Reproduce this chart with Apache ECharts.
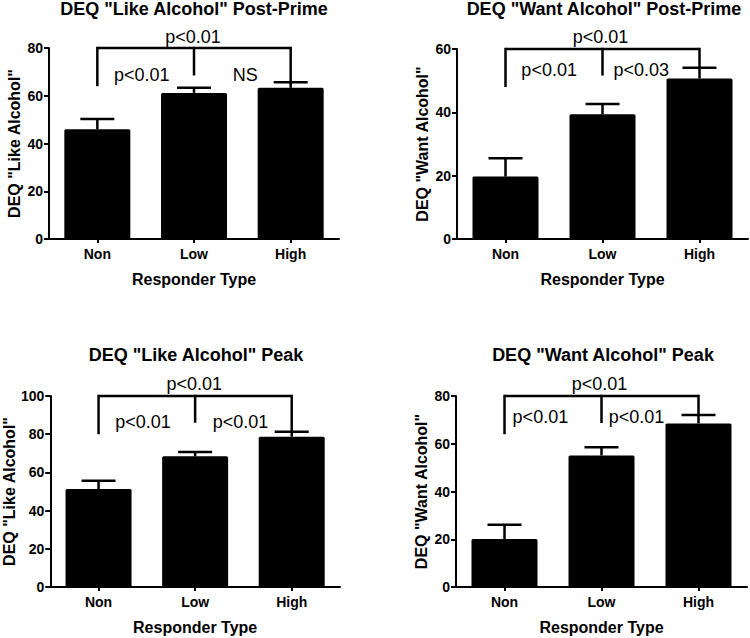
<!DOCTYPE html>
<html>
<head>
<meta charset="utf-8">
<script src="https://cdn.jsdelivr.net/npm/echarts@6/dist/echarts.min.js"></script>
<style>
html,body{margin:0;padding:0;background:#fff;}
#chart{width:750px;height:638px;}
</style>
</head>
<body>
<div id="chart"></div>
<script>
// ---------- data ----------
const categories = ['Non', 'Low', 'High'];

const titles = [
  'DEQ "Like Alcohol" Post-Prime',
  'DEQ "Want Alcohol" Post-Prime',
  'DEQ "Like Alcohol" Peak',
  'DEQ "Want Alcohol" Peak'
];
const yAxisNames = ['DEQ "Like Alcohol"', 'DEQ "Want Alcohol"', 'DEQ "Like Alcohol"', 'DEQ "Want Alcohol"'];
const xAxisName = 'Responder Type';

const yMaxValues = [80, 60, 100, 80];
const yStep = 20;

// means and (upper) error
const likePostMean = [46.0, 61.2, 63.3];
const likePostErr  = [4.3, 2.2, 2.4];
const wantPostMean = [19.7, 39.4, 50.7];
const wantPostErr  = [5.8, 3.2, 3.4];
const likePeakMean = [51.3, 68.4, 78.7];
const likePeakErr  = [4.3, 2.3, 2.6];
const wantPeakMean = [20.1, 55.1, 68.5];
const wantPeakErr  = [6.0, 3.4, 3.5];

// significance brackets: top level, leg ends (Non, Low, High), labels (overall, Non-Low, Low-High)
const likePostBracketTop = 80;
const likePostLegs = [64, 68.5, 65];
const likePostSig = ['p<0.01', 'p<0.01', 'NS'];
const wantPostBracketTop = 60;
const wantPostLegs = [48, 51.6, 54];
const wantPostSig = ['p<0.01', 'p<0.01', 'p<0.03'];
const likePeakBracketTop = 100;
const likePeakLegs = [80, 86, 81.3];
const likePeakSig = ['p<0.01', 'p<0.01', 'p<0.01'];
const wantPeakBracketTop = 80;
const wantPeakLegs = [64, 68.7, 72];
const wantPeakSig = ['p<0.01', 'p<0.01', 'p<0.01'];

// ---------- layout / style ----------
const FONT = '"Liberation Sans", Arial, Helvetica, sans-serif';
const panels = [
  {mean: likePostMean, err: likePostErr, top: likePostBracketTop, legs: likePostLegs, sig: likePostSig,
   grid: {left: 49, top: 48, width: 290, height: 191}, titleX: 194, titleY: 0,
   lab: {topDy: -11, subDy: 27, xs: [0.99, 0.46, 1.53]}},
  {mean: wantPostMean, err: wantPostErr, top: wantPostBracketTop, legs: wantPostLegs, sig: wantPostSig,
   grid: {left: 457, top: 49, width: 291, height: 190}, titleX: 604, titleY: 0,
   lab: {topDy: -12.5, subDy: 21, xs: [0.98, 0.45, 1.40]}},
  {mean: likePeakMean, err: likePeakErr, top: likePeakBracketTop, legs: likePeakLegs, sig: likePeakSig,
   grid: {left: 49, top: 396, width: 291, height: 191}, titleX: 196, titleY: 346,
   lab: {topDy: -12, subDy: 26, xs: [0.99, 0.46, 1.47]}},
  {mean: wantPeakMean, err: wantPeakErr, top: wantPeakBracketTop, legs: wantPeakLegs, sig: wantPeakSig,
   grid: {left: 456, top: 396, width: 291, height: 191}, titleX: 603, titleY: 346,
   lab: {topDy: -12, subDy: 20.5, xs: [0.98, 0.37, 1.36]}}
];

const chart = echarts.init(document.getElementById('chart'), null, {renderer: 'svg'});

const option = {
  backgroundColor: '#fff',
  animation: false,
  title: panels.map((p, i) => ({
    text: titles[i],
    left: p.titleX,
    top: p.titleY,
    textAlign: 'center',
    padding: 0,
    textStyle: {fontSize: 18, fontWeight: 'bold', fontFamily: FONT, color: '#000', lineHeight: 18}
  })),
  grid: panels.map(p => Object.assign({containLabel: false}, p.grid)),
  xAxis: panels.map((p, i) => ({
    gridIndex: i,
    type: 'category',
    data: categories,
    axisLine: {show: true, lineStyle: {color: '#000', width: 2}},
    axisTick: {show: true, alignWithLabel: true, length: 4, lineStyle: {color: '#000', width: 2}},
    axisLabel: {color: '#000', fontSize: 14, fontWeight: 'bold', fontFamily: FONT, margin: 8},
    splitLine: {show: false},
    name: xAxisName,
    nameLocation: 'middle',
    nameGap: 32,
    nameTextStyle: {color: '#000', fontSize: 16, fontWeight: 'bold', fontFamily: FONT}
  })),
  yAxis: panels.map((p, i) => ({
    gridIndex: i,
    type: 'value',
    min: 0,
    max: yMaxValues[i],
    interval: yStep,
    axisLine: {show: true, lineStyle: {color: '#000', width: 2}},
    axisTick: {show: true, length: 5, lineStyle: {color: '#000', width: 2}},
    axisLabel: {color: '#000', fontSize: 14, fontWeight: 'bold', fontFamily: FONT, margin: 6},
    splitLine: {show: false},
    name: yAxisNames[i],
    nameLocation: 'middle',
    nameGap: 27,
    nameTextStyle: {color: '#000', fontSize: 16, fontWeight: 'bold', fontFamily: FONT}
  })),
  series: []
};

panels.forEach((p, i) => {
  option.series.push({
    type: 'bar',
    xAxisIndex: i, yAxisIndex: i,
    data: p.mean,
    barWidth: 66,
    itemStyle: {color: '#000', borderRadius: 1.5},
    z: 2
  });
  option.series.push({
    type: 'custom',
    xAxisIndex: i, yAxisIndex: i,
    data: categories.map((c, k) => [k, p.mean[k], p.err[k]]),
    encode: {x: 0, y: [1, 2]},
    clip: false,
    z: 3,
    renderItem: function (params, api) {
      const x = api.value(0), m = api.value(1), e = api.value(2);
      const a = api.coord([x, m]);
      const b = api.coord([x, m + e]);
      const st = {stroke: '#000', lineWidth: 2.5};
      return {type: 'group', children: [
        {type: 'line', shape: {x1: a[0], y1: a[1], x2: b[0], y2: b[1]}, style: st},
        {type: 'line', shape: {x1: b[0] - 17, y1: b[1], x2: b[0] + 17, y2: b[1]}, style: st}
      ]};
    }
  });
  option.series.push({
    type: 'custom',
    xAxisIndex: i, yAxisIndex: i,
    data: [[0, p.top]],
    encode: {x: 0, y: 1},
    clip: false,
    z: 4,
    silent: true,
    renderItem: function (params, api) {
      const st = {stroke: '#000', lineWidth: 2.5};
      const topPts = [0, 1, 2].map(k => api.coord([k, p.top]));
      const children = [
        {type: 'line', shape: {x1: topPts[0][0], y1: topPts[0][1], x2: topPts[2][0], y2: topPts[2][1]}, style: st}
      ];
      [0, 1, 2].forEach(k => {
        const b = api.coord([k, p.legs[k]]);
        children.push({type: 'line', shape: {x1: topPts[k][0], y1: topPts[k][1] - 1.2, x2: b[0], y2: b[1]}, style: st});
      });
      const step = topPts[1][0] - topPts[0][0];
      const yTop = topPts[0][1];
      const txt = (s, fx, dy) => ({
        type: 'text',
        x: topPts[0][0] + fx * step,
        y: yTop + dy,
        style: {text: s, fill: '#000', font: '18px ' + FONT,
                textAlign: 'center', textVerticalAlign: 'middle', align: 'center', verticalAlign: 'middle'}
      });
      children.push(txt(p.sig[0], p.lab.xs[0], p.lab.topDy));
      children.push(txt(p.sig[1], p.lab.xs[1], p.lab.subDy));
      children.push(txt(p.sig[2], p.lab.xs[2], p.lab.subDy));
      return {type: 'group', children: children};
    }
  });
});

chart.setOption(option);
</script>
</body>
</html>
